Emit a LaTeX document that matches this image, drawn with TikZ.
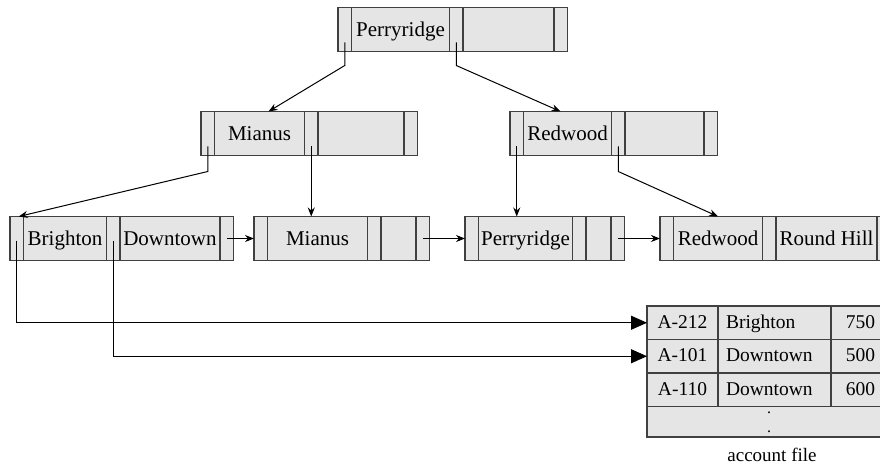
\documentclass[tikz,border=0pt]{standalone}
\usepackage{fontspec}
\setmainfont{Liberation Serif}
\usetikzlibrary{arrows.meta,positioning}
\tikzset{
  cell/.style={draw=black!75, fill=black!10, line width=1.1pt, minimum height=44pt,
    inner sep=0pt, outer sep=0pt, text height=17pt, text depth=3pt,
    font=\fontsize{21}{25}\selectfont},
  tcell/.style={cell, minimum height=33.5pt, text height=14pt, text depth=3pt,
    font=\fontsize{19.5}{23}\selectfont},
  ptr/.style={line width=1pt, -{Stealth[length=9pt,width=7pt]}},
  recptr/.style={line width=1.1pt, -{Triangle[length=16pt,width=14pt]}},
}
% one B+-tree node: name, x, y, key width, key, key width, key
\newcommand{\bpnode}[7]{%
  \node[cell, minimum width=13.5pt, anchor=west] (#1-0) at (#2,#3) {};
  \node[cell, minimum width=#4pt, right=0pt of #1-0] (#1-1) {#5};
  \node[cell, minimum width=13.5pt, right=0pt of #1-1] (#1-2) {};
  \node[cell, minimum width=#6pt, right=0pt of #1-2] (#1-3) {#7};
  \node[cell, minimum width=13.5pt, right=0pt of #1-3] (#1-4) {};
}
\begin{document}
\begin{tikzpicture}[x=1pt,y=-1pt]
\useasboundingbox (0,0) rectangle (880,465);
% tree nodes
\bpnode{root}{338}{29.5}{98}{Perryridge}{91}{}
\bpnode{mia}{201}{133.5}{90}{Mianus}{86}{}
\bpnode{red}{510}{133.5}{88}{Redwood}{79}{}
% leaves
\bpnode{lfa}{10}{238.5}{83}{Brighton}{100}{Downtown}
\bpnode{lfb}{254}{238.5}{100}{Mianus}{35}{}
\bpnode{lfc}{465}{238.5}{94}{Perryridge}{25}{}
\bpnode{lfd}{660}{238.5}{89}{Redwood}{101}{Round Hill}
% account file
\foreach \r/\acc/\br/\amt in {1/A-212/Brighton/750, 2/A-101/Downtown/500, 3/A-110/Downtown/600}{
  \node[tcell, minimum width=71pt, anchor=west] (acc\r-a) at (647,{289.25+33.5*\r}) {\acc};
  \node[tcell, text width=97pt, inner xsep=8pt, align=left, right=0pt of acc\r-a] (acc\r-b) {\br};
  \node[tcell, minimum width=59pt, right=0pt of acc\r-b] (acc\r-c) {\amt};
}
\node[cell, minimum width=243pt, minimum height=30.5pt, anchor=north west] (acc4) at (acc3-a.south west) {};
\node[align=center, inner sep=0pt, font=\fontsize{16}{19}\selectfont] (dots) at (769,422.5) {.\\.};
\node[anchor=base, inner sep=0pt, font=\fontsize{19}{23}\selectfont] (caption) at (772,461) {account file};
% pointer starts
\coordinate (p1) at ([yshift=-13pt]root-0.center);
\coordinate (p2) at ([yshift=-13pt]root-2.center);
\coordinate (p3) at ([yshift=-13pt]mia-0.center);
\coordinate (p4) at ([yshift=-13pt]mia-2.center);
\coordinate (p5) at ([yshift=-13pt]red-0.center);
\coordinate (p6) at ([yshift=-13pt]red-2.center);
\coordinate (q1) at ([yshift=-2pt]lfa-0.center);
\coordinate (q2) at ([yshift=-2pt]lfa-2.center);
% tree pointers
\draw[ptr] (p1) -- ++(0,23) -- ([xshift=9pt]mia-1.north);
\draw[ptr] (p2) -- ++(0,23) -- ([xshift=-7pt]red-1.north);
\draw[ptr] (p3) -- ++(0,25) -- ([xshift=2pt]lfa-0.north);
\draw[ptr] (p4) -- (p4 |- lfb-1.north);
\draw[ptr] (p5) -- (p5 |- lfc-1.north);
\draw[ptr] (p6) -- ++(0,25) -- (lfd-1.north);
% leaf chain
\draw[ptr] (lfa-4.center) -- (lfb-0.west);
\draw[ptr] (lfb-4.center) -- (lfc-0.west);
\draw[ptr] (lfc-4.center) -- (lfd-0.west);
% record pointers
\draw[recptr] (q1) |- (acc1-a.west);
\draw[recptr] (q2) |- (acc2-a.west);
\end{tikzpicture}
\end{document}
